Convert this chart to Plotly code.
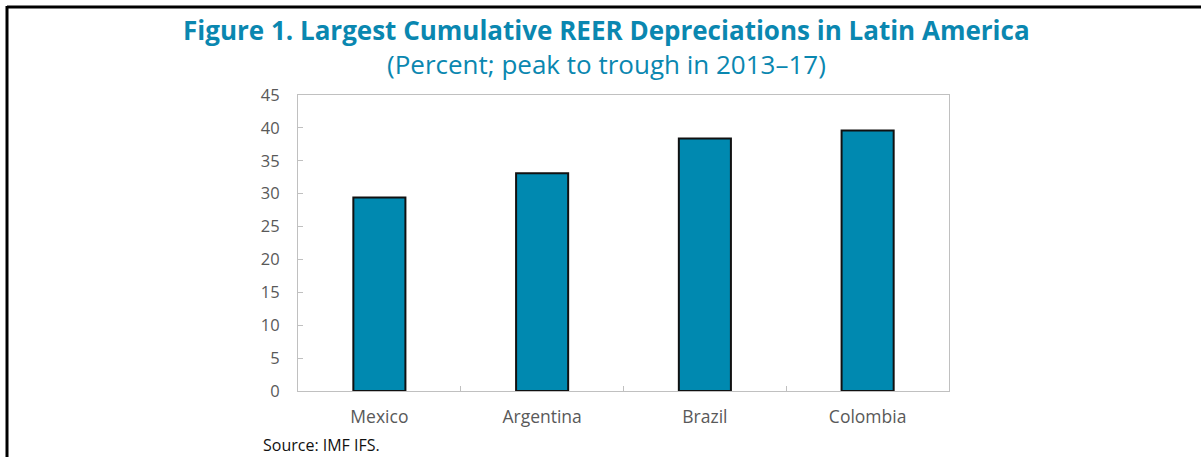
import plotly.graph_objects as go

countries = ["Mexico", "Argentina", "Brazil", "Colombia"]
depreciation = [29.4, 33.1, 38.4, 39.6]
y_ticks = [0, 5, 10, 15, 20, 25, 30, 35, 40, 45]

W, H = 1201, 457
L, R, T, B = 298, 949, 95, 391
pw, ph = R - L, B - T

def px(x):
    return (x - L) / pw

def py(y):
    return (B - y) / ph

TEAL = "#0a87b0"
FONT = "Open Sans"

fig = go.Figure(go.Bar(
    x=countries, y=depreciation,
    marker=dict(color="#0089b0", line=dict(color="#111111", width=2)),
    width=0.32,
))

fig.update_layout(
    width=W, height=H,
    margin=dict(l=L, r=W - R, t=T, b=H - B),
    plot_bgcolor="white", paper_bgcolor="white",
    showlegend=False,
    font=dict(family=FONT, color="#595959"),
)
fig.update_xaxes(
    showline=True, linecolor="#c0c0c0", linewidth=1, mirror=True,
    ticks="inside", ticklen=5, tickcolor="#c0c0c0", tickson="boundaries",
    tickfont=dict(size=17.5, color="#595959"), showgrid=False,
    ticklabelstandoff=10,
)
fig.update_yaxes(
    range=[0, 45], tickvals=y_ticks, showgrid=False, zeroline=False,
    showline=True, linecolor="#c0c0c0", linewidth=1, mirror=True,
    ticks="inside", ticklen=5, tickcolor="#c0c0c0",
    tickfont=dict(size=16.5, color="#595959"),
    ticklabelstandoff=14,
)

fig.add_annotation(
    text="<b>Figure 1. Largest Cumulative REER Depreciations in Latin America</b>",
    xref="paper", yref="paper", x=px(606), y=py(30), xanchor="center", yanchor="middle",
    showarrow=False, font=dict(family=FONT, size=26, color=TEAL),
)
fig.add_annotation(
    text="(Percent; peak to trough in 2013\u201317)",
    xref="paper", yref="paper", x=px(606), y=py(64), xanchor="center", yanchor="middle",
    showarrow=False, font=dict(family=FONT, size=26, color=TEAL),
)
fig.add_annotation(
    text="Source: IMF IFS.",
    xref="paper", yref="paper", x=px(261), y=py(445), xanchor="left", yanchor="middle",
    showarrow=False, font=dict(family=FONT, size=16, color="#111111"),
)

fig.add_shape(type="line", xref="paper", yref="paper",
              x0=px(7), x1=px(1205), y0=py(7), y1=py(7),
              line=dict(color="black", width=3))
fig.add_shape(type="line", xref="paper", yref="paper",
              x0=px(7), x1=px(7), y0=py(6), y1=py(460),
              line=dict(color="black", width=3))

fig.write_html(
    "out.html",
    config={"displayModeBar": False},
    post_script="document.body.style.margin='0';document.body.style.overflow='hidden';",
)
